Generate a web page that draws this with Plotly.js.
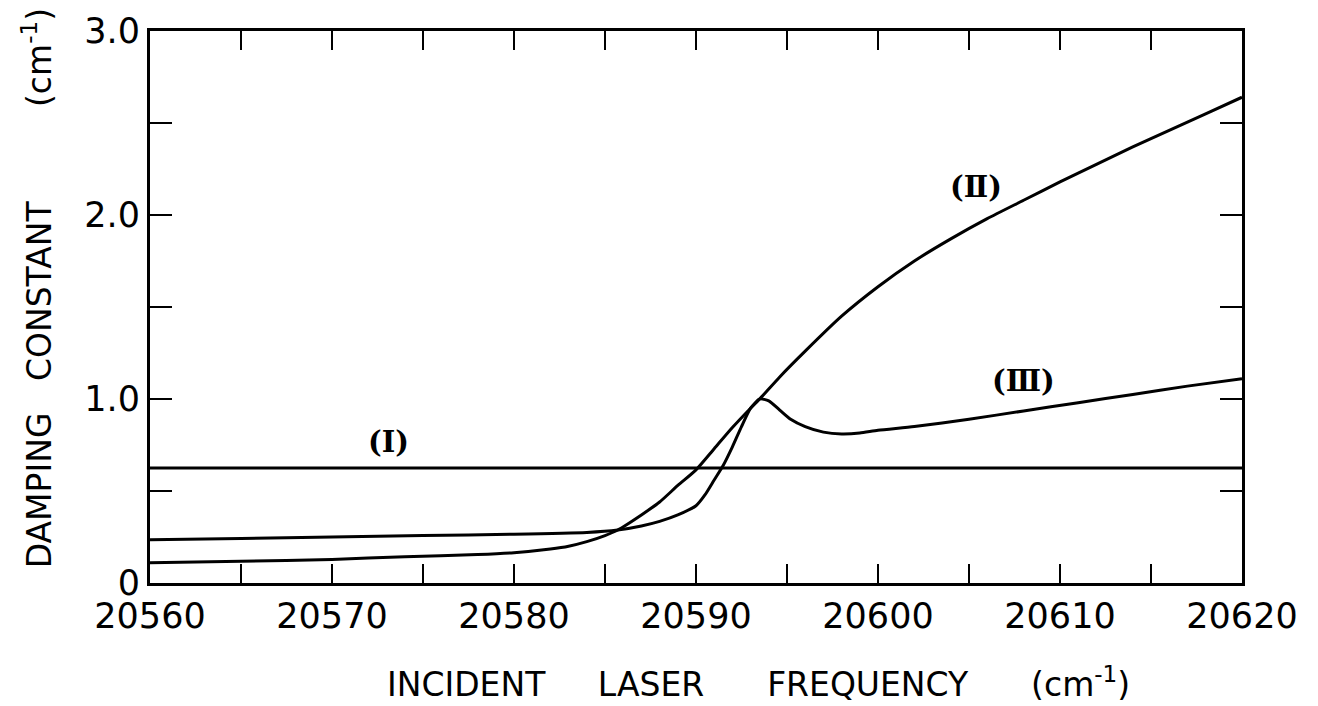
<!DOCTYPE html>
<html>
<head>
<meta charset="utf-8">
<script src="https://cdn.plot.ly/plotly-3.0.1.min.js"></script>
<style>
  html, body { margin: 0; padding: 0; background: #ffffff; }
  #chart { width: 1318px; height: 706px; }
</style>
</head>
<body>
<div id="chart"></div>
<script>
// Damping constant versus incident laser frequency, three model curves.

// Curve (I): constant damping
const freqI = [20560, 20620];
const dampI = [0.625, 0.625];

// Curve (II)
const freqII = [20560, 20565, 20570, 20574, 20578, 20580, 20582, 20583, 20584, 20585,
                20585.7, 20587, 20588, 20589, 20590, 20591, 20592, 20593, 20593.5, 20594.6,
                20596, 20598, 20600, 20602, 20604, 20606, 20608, 20610, 20612, 20614,
                20616, 20618, 20620];
const dampII = [0.11, 0.118, 0.128, 0.143, 0.155, 0.165, 0.185, 0.2, 0.225, 0.258,
                0.288, 0.37, 0.44, 0.53, 0.615, 0.73, 0.845, 0.95, 1.0, 1.12,
                1.26, 1.45, 1.61, 1.75, 1.87, 1.98, 2.08, 2.18, 2.275, 2.37,
                2.46, 2.55, 2.64];

// Curve (III)
const freqIII = [20560, 20565, 20570, 20575, 20580, 20584, 20585.7, 20587, 20588, 20589,
                 20590, 20590.5, 20591, 20591.5, 20592, 20592.5, 20593, 20593.5, 20594, 20594.6,
                 20595.2, 20596, 20597, 20598, 20599, 20600, 20602, 20605, 20608, 20611,
                 20614, 20617, 20620];
const dampIII = [0.235, 0.242, 0.25, 0.258, 0.265, 0.275, 0.288, 0.31, 0.335, 0.37,
                 0.42, 0.48, 0.56, 0.64, 0.74, 0.85, 0.95, 1.0, 0.99, 0.94,
                 0.89, 0.85, 0.82, 0.81, 0.815, 0.83, 0.85, 0.89, 0.935, 0.98,
                 1.025, 1.07, 1.11];

// Axis ticks
const xTickVals = [20560, 20565, 20570, 20575, 20580, 20585, 20590, 20595, 20600, 20605, 20610, 20615, 20620];
const xTickText = ['20560', '', '20570', '', '20580', '', '20590', '', '20600', '', '20610', '', '20620'];
const yTickVals = [0, 0.5, 1.0, 1.5, 2.0, 2.5, 3.0];
const yTickText = ['0', '', '1.0', '', '2.0', '', '3.0'];

// Curve labels
const labelText = ['(I)', '(Ⅱ)', '(Ⅲ)'];
const labelX = [20573.1, 20605.4, 20608.0];
const labelY = [0.766, 2.15, 1.10];

const lineStyle = { color: '#000000', width: 3 };

const traces = [
  { x: freqI, y: dampI, mode: 'lines', line: lineStyle, name: '(I)' },
  { x: freqII, y: dampII, mode: 'lines', line: Object.assign({ shape: 'spline', smoothing: 0.6 }, lineStyle), name: '(II)' },
  { x: freqIII, y: dampIII, mode: 'lines', line: Object.assign({ shape: 'spline', smoothing: 0.6 }, lineStyle), name: '(III)' }
];

const sp = '\u00a0';
const gap = n => sp.repeat(n);

const titleFont = { family: 'DejaVu Sans, sans-serif', size: 33, color: '#000000' };

const axisTitles = [
  {
    // horizontal axis title, set a little right of the plot centre
    text: 'INCIDENT' + gap(5) + 'LASER' + gap(6) + 'FREQUENCY' + gap(6) + '(cm<sup>-1</sup>)',
    xref: 'paper', yref: 'paper', x: 0.5568, y: -0.181,
    xanchor: 'center', yanchor: 'middle', showarrow: false, font: titleFont
  },
  {
    // vertical axis title
    text: 'DAMPING' + gap(3) + 'CONSTANT' + gap(9) + '(cm<sup>-1</sup>)',
    xref: 'paper', yref: 'paper', x: -0.103, y: 0.533, textangle: -90,
    xanchor: 'center', yanchor: 'middle', showarrow: false, font: titleFont
  }
];

const curveLabels = labelText.map((t, i) => ({
  x: labelX[i],
  y: labelY[i],
  xref: 'x',
  yref: 'y',
  text: '<b>' + t + '</b>',
  showarrow: false,
  font: { family: 'DejaVu Serif, serif', size: 29, color: '#000000' }
}));

const layout = {
  width: 1318,
  height: 706,
  paper_bgcolor: '#ffffff',
  plot_bgcolor: '#ffffff',
  showlegend: false,
  margin: { l: 150, r: 76, t: 31, b: 123 },
  font: { family: 'DejaVu Sans, sans-serif', color: '#000000' },
  xaxis: {
    range: [20560, 20620],
    tickmode: 'array',
    tickvals: xTickVals,
    ticktext: xTickText,
    ticks: 'inside',
    ticklen: 19,
    tickwidth: 2.5,
    tickcolor: '#000000',
    showline: true,
    linewidth: 3,
    linecolor: '#000000',
    mirror: 'ticks',
    showgrid: false,
    zeroline: false,
    tickfont: { family: 'DejaVu Sans, sans-serif', size: 35, color: '#000000' }
  },
  yaxis: {
    range: [0, 3],
    tickmode: 'array',
    tickvals: yTickVals,
    ticktext: yTickText,
    ticks: 'inside',
    ticklen: 22,
    tickwidth: 2.5,
    tickcolor: '#000000',
    showline: true,
    linewidth: 3,
    linecolor: '#000000',
    mirror: 'ticks',
    showgrid: false,
    zeroline: false,
    tickfont: { family: 'DejaVu Sans, sans-serif', size: 35, color: '#000000' }
  },
  annotations: axisTitles.concat(curveLabels)
};

Plotly.newPlot('chart', traces, layout, { displayModeBar: false, staticPlot: true });
</script>
</body>
</html>
